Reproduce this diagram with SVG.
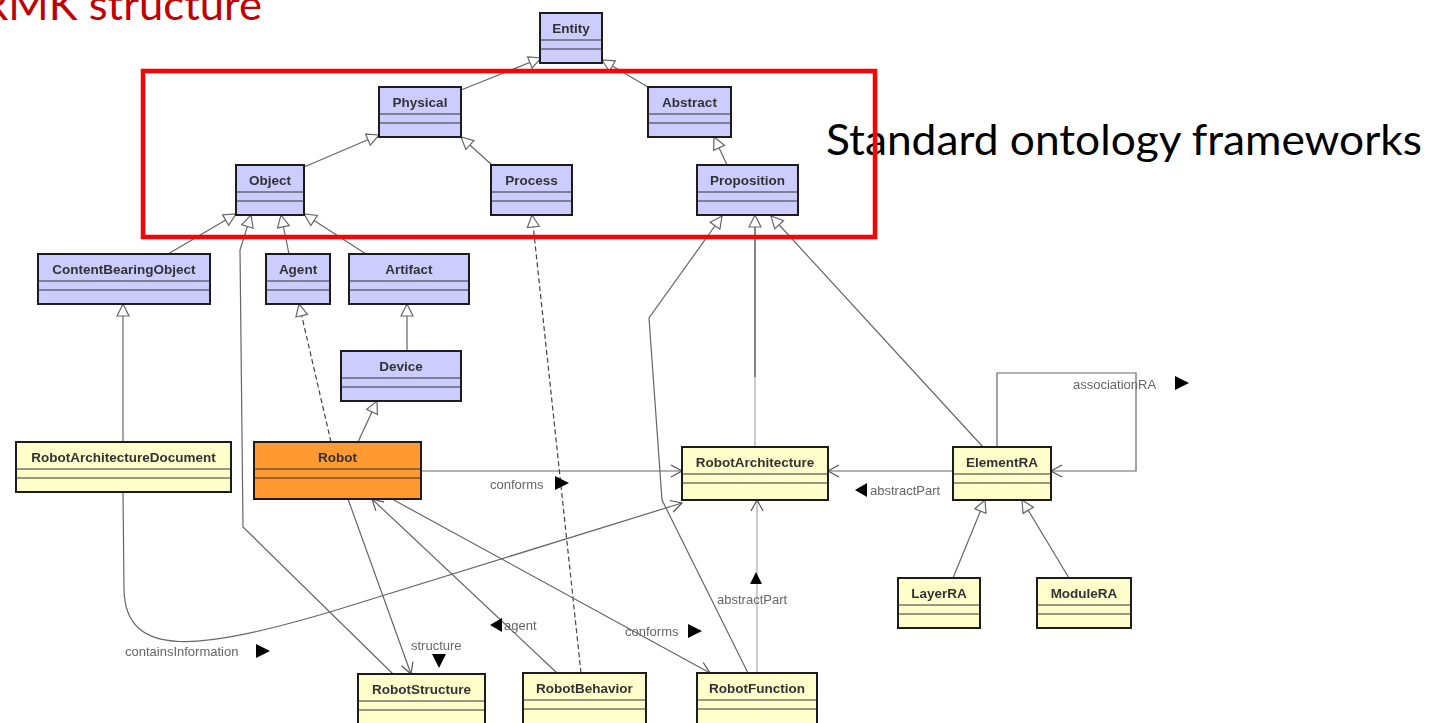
<svg xmlns="http://www.w3.org/2000/svg" width="1431" height="723" viewBox="0 0 1431 723">
  <style>
    .cls rect { stroke: #1a1a1a; stroke-width: 2; }
    .cls line { stroke: #333; stroke-width: 1; }
    .blue rect { fill: #CCCCFF; }
    .yel rect { fill: #FFFFCC; }
    .org rect { fill: #FF9933; }
    .cls text { font-family: "Liberation Sans", Arial, sans-serif; font-weight: bold; font-size: 13.5px; fill: #333; text-anchor: middle; }
    .edge { fill: none; stroke: #666; stroke-width: 1.2; }
    .dash { stroke-dasharray: 5 3; stroke: #444; }
    .light { stroke: #aaa; }
    .gen { marker-end: url(#gen); }
    .assoc { marker-end: url(#open); }
    .lbl { font-family: "Liberation Sans", Arial, sans-serif; font-size: 13px; fill: #666; }
    .tri { fill: #000; }
    .slide { font-family: Lato, "Open Sans", sans-serif; font-size: 42px; }
  </style>
  <defs>
    <marker id="gen" markerUnits="userSpaceOnUse" markerWidth="16" markerHeight="14" refX="13" refY="6" orient="auto" overflow="visible">
      <path d="M1,0 L13,6 L1,12 Z" fill="#fff" stroke="#666" stroke-width="1.2"/>
    </marker>
    <marker id="open" markerUnits="userSpaceOnUse" markerWidth="14" markerHeight="14" refX="11" refY="6" orient="auto" overflow="visible">
      <path d="M0,0 L11,6 L0,12" fill="none" stroke="#555" stroke-width="1.2"/>
    </marker>
    <!-- the UML drawing is a soft, low-resolution capture -->
    <filter id="soft" filterUnits="userSpaceOnUse" x="0" y="0" width="1431" height="723">
      <feGaussianBlur stdDeviation="0.35"/>
    </filter>
  </defs>
  <rect width="1431" height="723" fill="#fff"/>

  <!-- slide title -->
  <text class="slide" x="-19" y="20" textLength="281" lengthAdjust="spacingAndGlyphs" fill="#C00000">RMK structure</text>

  <g id="uml" filter="url(#soft)">
  <!-- connectors -->
  <g id="connectors">
    <path class="edge gen" d="M461,90 L541,58"/>
    <path class="edge gen" d="M648,87 L602,60"/>
    <path class="edge gen" d="M304,167 L379,135"/>
    <path class="edge gen" d="M492,165 L461,137"/>
    <path class="edge gen" d="M727,165 L714,137"/>
    <path class="edge gen" d="M168,254 L236,214"/>
    <path class="edge gen" d="M393,674 L243,527 L240,250 L251,215"/>
    <path class="edge gen" d="M289,254 L281,215"/>
    <path class="edge gen" d="M366,254 L304,214"/>
    <path class="edge gen" d="M123,442 L123,304"/>
    <path class="edge gen" d="M407,351 L407,304"/>
    <path class="edge gen" d="M358,442 L377,401"/>
    <path class="edge gen dash" d="M331,442 L299,304"/>
    <path class="edge assoc" d="M421,471 L682,471"/>
    <path class="edge assoc" d="M953,471 L828,471"/>
    <path class="edge assoc" d="M997,447 L997,373 L1136,373 L1136,471 L1051,471"/>
    <path class="edge gen" d="M983,447 L771,216"/>
    <path class="edge light" d="M755,447 L755,377"/>
    <path class="edge gen" style="stroke:#333" d="M755,377 L755,215"/>
    <path class="edge gen" d="M748,673 L662,500 L649,318 L722,216"/>
    <path class="edge gen dash" d="M581,673 L532,215"/>
    <path class="edge assoc" d="M557,673 L372,499"/>
    <path class="edge assoc" d="M392,499 L710,673"/>
    <path class="edge assoc" d="M348,499 L411,674"/>
    <path class="edge assoc" d="M123,492 L124,590 C126,660 200,650 330,612 L682,503"/>
    <path class="edge assoc light" d="M757,673 L757,500"/>
    <path class="edge gen" d="M953,578 L985,500"/>
    <path class="edge gen" d="M1069,578 L1022,500"/>
  </g>

  <!-- association labels -->
  <g id="labels">
    <text class="lbl" x="490" y="489">conforms</text>
    <path class="tri" d="M555,476 L569,483 L555,490 Z"/>
    <path class="tri" d="M867,483 L855,490 L867,497 Z"/>
    <text class="lbl" x="870" y="495">abstractPart</text>
    <text class="lbl" x="1073" y="389">associationRA</text>
    <path class="tri" d="M1175,376 L1189,383 L1175,390 Z"/>
    <path class="tri" d="M750,584 L756,572 L762,584 Z"/>
    <text class="lbl" x="717" y="604">abstractPart</text>
    <text class="lbl" x="625" y="636">conforms</text>
    <path class="tri" d="M688,624 L702,631 L688,638 Z"/>
    <path class="tri" d="M502,618 L490,625 L502,632 Z"/>
    <text class="lbl" x="504" y="630">agent</text>
    <text class="lbl" x="411" y="650">structure</text>
    <path class="tri" d="M432,654 L446,654 L439,668 Z"/>
    <text class="lbl" x="125" y="656">containsInformation</text>
    <path class="tri" d="M256,644 L270,651 L256,658 Z"/>
  </g>

  <!-- classes -->
  <g id="entity" class="cls blue"><rect x="540" y="13" width="62" height="50"/><line x1="540" y1="40" x2="602" y2="40"/><line x1="540" y1="49" x2="602" y2="49"/><text x="571" y="33">Entity</text></g>
  <g id="physical" class="cls blue"><rect x="379" y="87" width="82" height="50"/><line x1="379" y1="114" x2="461" y2="114"/><line x1="379" y1="123" x2="461" y2="123"/><text x="420" y="107">Physical</text></g>
  <g id="abstract" class="cls blue"><rect x="648" y="87" width="83" height="50"/><line x1="648" y1="114" x2="731" y2="114"/><line x1="648" y1="123" x2="731" y2="123"/><text x="689.5" y="107">Abstract</text></g>
  <g id="object" class="cls blue"><rect x="236" y="165" width="68" height="50"/><line x1="236" y1="192" x2="304" y2="192"/><line x1="236" y1="201" x2="304" y2="201"/><text x="270" y="185">Object</text></g>
  <g id="process" class="cls blue"><rect x="491" y="165" width="81" height="50"/><line x1="491" y1="192" x2="572" y2="192"/><line x1="491" y1="201" x2="572" y2="201"/><text x="531.5" y="185">Process</text></g>
  <g id="proposition" class="cls blue"><rect x="697" y="165" width="101" height="50"/><line x1="697" y1="192" x2="798" y2="192"/><line x1="697" y1="201" x2="798" y2="201"/><text x="747.5" y="185">Proposition</text></g>
  <g id="content-bearing-object" class="cls blue"><rect x="38" y="254" width="172" height="50"/><line x1="38" y1="281" x2="210" y2="281"/><line x1="38" y1="290" x2="210" y2="290"/><text x="124" y="274">ContentBearingObject</text></g>
  <g id="agent" class="cls blue"><rect x="266" y="254" width="64" height="50"/><line x1="266" y1="281" x2="330" y2="281"/><line x1="266" y1="290" x2="330" y2="290"/><text x="298" y="274">Agent</text></g>
  <g id="artifact" class="cls blue"><rect x="349" y="254" width="120" height="50"/><line x1="349" y1="281" x2="469" y2="281"/><line x1="349" y1="290" x2="469" y2="290"/><text x="409" y="274">Artifact</text></g>
  <g id="device" class="cls blue"><rect x="341" y="351" width="120" height="50"/><line x1="341" y1="378" x2="461" y2="378"/><line x1="341" y1="387" x2="461" y2="387"/><text x="401" y="371">Device</text></g>
  <g id="robot-architecture-document" class="cls yel"><rect x="16" y="442" width="215" height="50"/><line x1="16" y1="469" x2="231" y2="469"/><line x1="16" y1="478" x2="231" y2="478"/><text x="123.5" y="462">RobotArchitectureDocument</text></g>
  <g id="robot" class="cls org"><rect x="254" y="442" width="167" height="57"/><line x1="254" y1="469" x2="421" y2="469"/><line x1="254" y1="478" x2="421" y2="478"/><text x="337.5" y="462">Robot</text></g>
  <g id="robot-architecture" class="cls yel"><rect x="682" y="447" width="146" height="53"/><line x1="682" y1="474" x2="828" y2="474"/><line x1="682" y1="483" x2="828" y2="483"/><text x="755" y="467">RobotArchitecture</text></g>
  <g id="element-ra" class="cls yel"><rect x="953" y="447" width="98" height="53"/><line x1="953" y1="474" x2="1051" y2="474"/><line x1="953" y1="483" x2="1051" y2="483"/><text x="1002" y="467">ElementRA</text></g>
  <g id="layer-ra" class="cls yel"><rect x="898" y="578" width="82" height="50"/><line x1="898" y1="605" x2="980" y2="605"/><line x1="898" y1="614" x2="980" y2="614"/><text x="939" y="598">LayerRA</text></g>
  <g id="module-ra" class="cls yel"><rect x="1037" y="578" width="94" height="50"/><line x1="1037" y1="605" x2="1131" y2="605"/><line x1="1037" y1="614" x2="1131" y2="614"/><text x="1084" y="598">ModuleRA</text></g>
  <g id="robot-structure" class="cls yel"><rect x="358" y="674" width="127" height="52"/><line x1="358" y1="701" x2="485" y2="701"/><line x1="358" y1="710" x2="485" y2="710"/><text x="421.5" y="694">RobotStructure</text></g>
  <g id="robot-behavior" class="cls yel"><rect x="523" y="673" width="123" height="52"/><line x1="523" y1="700" x2="646" y2="700"/><line x1="523" y1="709" x2="646" y2="709"/><text x="584.5" y="693">RobotBehavior</text></g>
  <g id="robot-function" class="cls yel"><rect x="697" y="673" width="120" height="52"/><line x1="697" y1="700" x2="817" y2="700"/><line x1="697" y1="709" x2="817" y2="709"/><text x="757" y="693">RobotFunction</text></g>
  </g>

  <!-- callout -->
  <text class="slide" x="826" y="155" textLength="596" lengthAdjust="spacingAndGlyphs" fill="#000">Standard ontology frameworks</text>
  <rect x="143" y="71" width="732" height="166" fill="none" stroke="#FF0000" stroke-width="4.5"/>
</svg>
